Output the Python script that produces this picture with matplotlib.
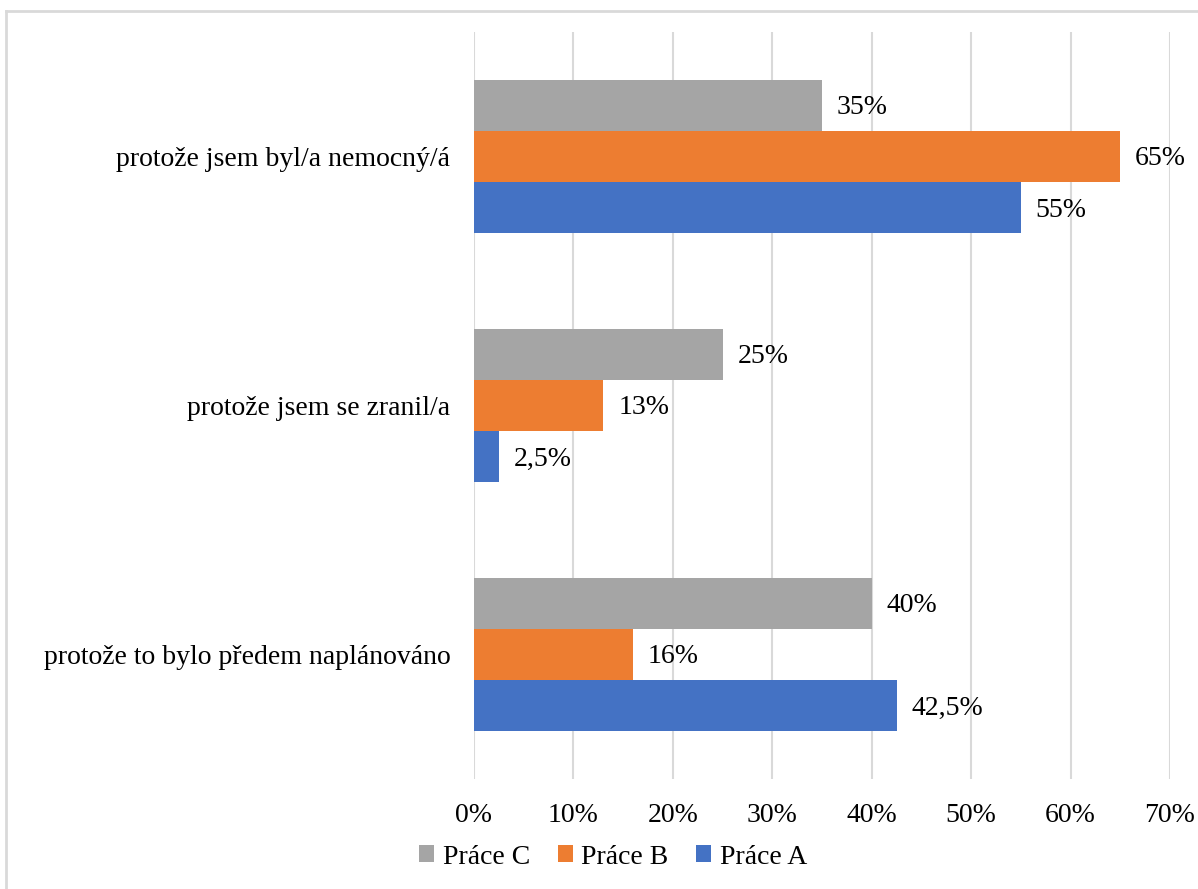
import numpy as np
import matplotlib
matplotlib.use('Agg')
import matplotlib.pyplot as plt
from matplotlib.lines import Line2D

# data (categories listed top to bottom)
categories = ['protože jsem byl/a nemocný/á',
              'protože jsem se zranil/a',
              'protože to bylo předem naplánováno']
series = ['Práce C', 'Práce B', 'Práce A']
values_c = [35, 25, 40]
values_b = [65, 13, 16]
values_a = [55, 2.5, 42.5]
labels_c = ['35%', '25%', '40%']
labels_b = ['65%', '13%', '16%']
labels_a = ['55%', '2,5%', '42,5%']
ticks = [0, 10, 20, 30, 40, 50, 60, 70]
tick_labels = ['%d%%' % t for t in ticks]

colors = ['#A5A5A5', '#ED7D31', '#4472C4']
fs = 20

plt.rcParams['font.family'] = ['Liberation Serif', 'DejaVu Serif']

fig = plt.figure(figsize=(11.98, 8.89), dpi=100)
ax = fig.add_axes([474/1198, 110/889, 696/1198, 747/889])

y = np.arange(len(categories))
h = 0.205
offsets = [-h, 0, h]
all_vals = [values_c, values_b, values_a]
all_labels = [labels_c, labels_b, labels_a]

for name, vals, labs, off, col in zip(series, all_vals, all_labels, offsets, colors):
    bars = ax.barh(y + off, vals, height=h, color=col, label=name, zorder=3)
    for b, lab in zip(bars, labs):
        ax.text(b.get_width() + 1.5, b.get_y() + b.get_height() / 2 + 0.01, lab,
                va='center', ha='left', fontsize=fs, color='black', zorder=4)

ax.set_ylim(len(categories) - 0.5, -0.5)
ax.set_xlim(0, 70)
ax.set_xticks(ticks)
ax.set_xticklabels(tick_labels, fontsize=fs)
ax.set_yticks(y)
ax.set_yticklabels(categories, fontsize=fs)
ax.tick_params(axis='both', length=0)
ax.tick_params(axis='x', pad=17)
ax.tick_params(axis='y', pad=17)
ax.grid(axis='x', color='#D9D9D9', linewidth=1.5, zorder=0)
for s in ax.spines.values():
    s.set_visible(False)

ax.legend(loc='center', bbox_to_anchor=(613/1198, (889-857)/889),
          bbox_transform=fig.transFigure, ncol=3, frameon=False,
          fontsize=fs, handlelength=0.55, handleheight=0.55,
          handletextpad=0.3, columnspacing=1.0)

# outer frame (top and left edges visible)
fig.add_artist(Line2D([6/1198, 1], [1 - 11/889, 1 - 11/889],
                      transform=fig.transFigure, color='#D9D9D9', linewidth=2))
fig.add_artist(Line2D([6/1198, 6/1198], [0, 1 - 11/889],
                      transform=fig.transFigure, color='#D9D9D9', linewidth=2))

fig.savefig('out.png', dpi=100)
